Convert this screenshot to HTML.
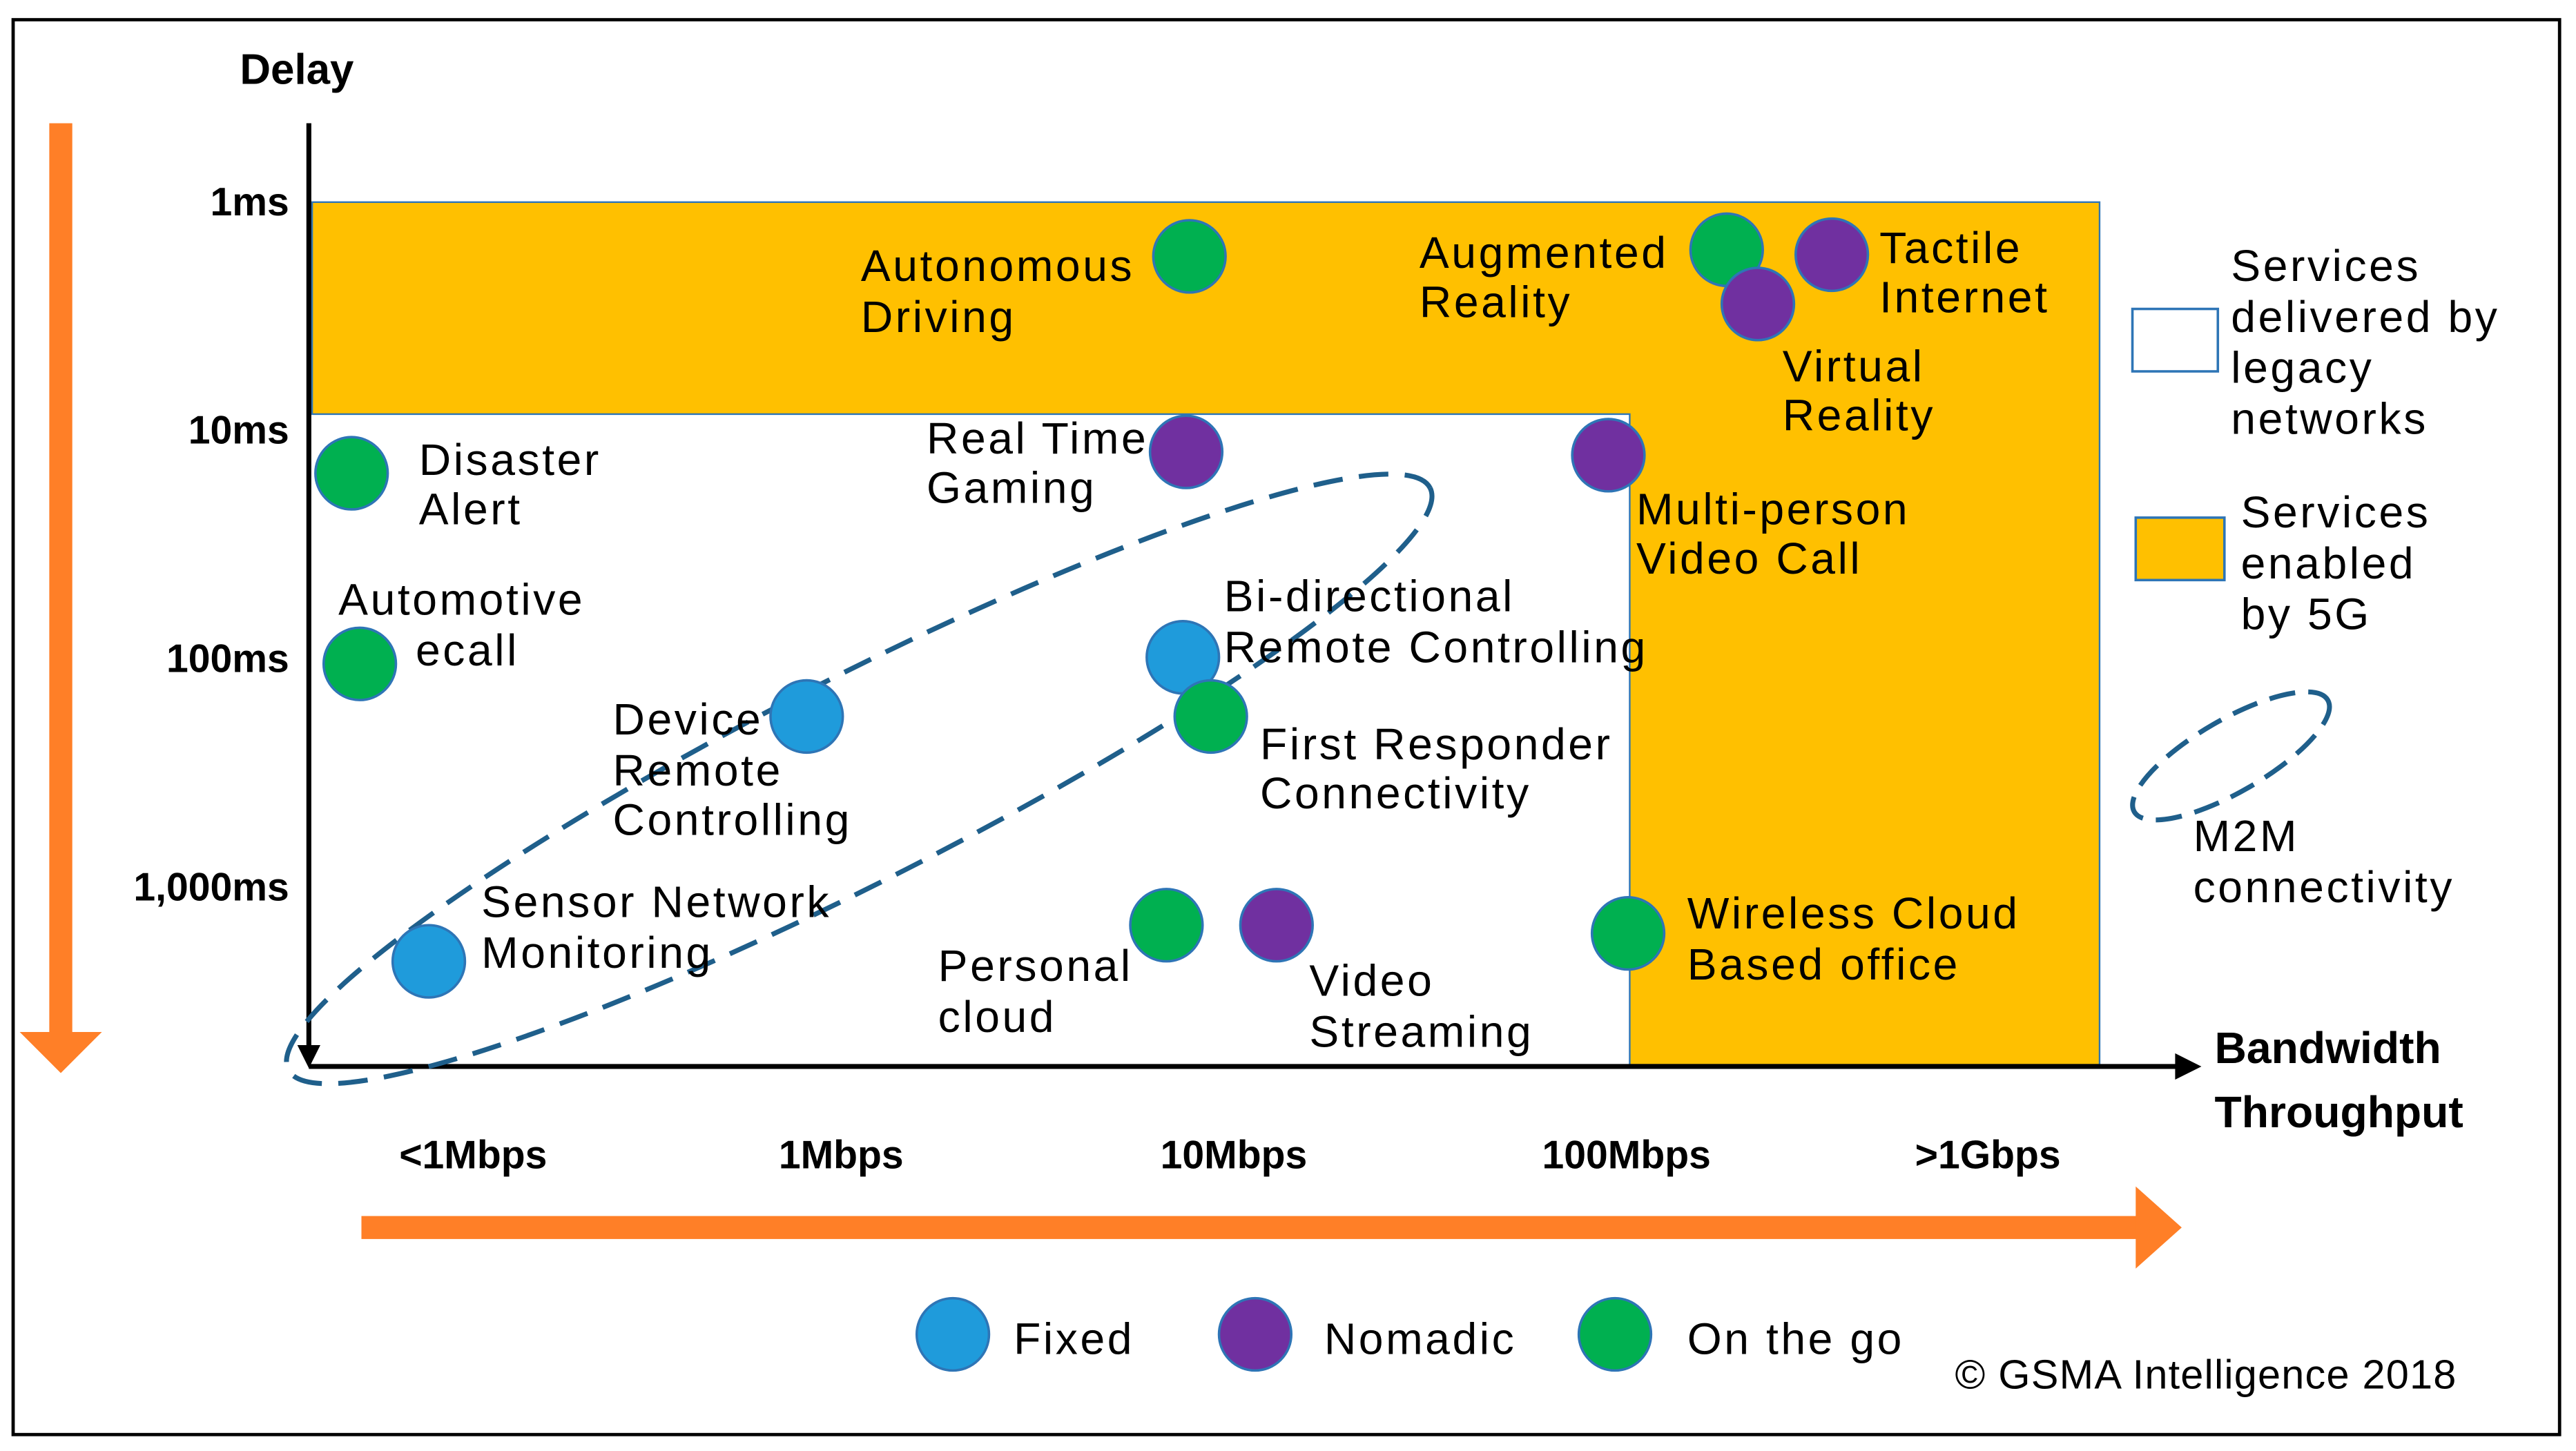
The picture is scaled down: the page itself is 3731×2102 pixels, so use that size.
<!DOCTYPE html>
<html><head><meta charset="utf-8"><style>
html,body{margin:0;padding:0;background:#fff}
svg{display:block}
text{font-family:"Liberation Sans",sans-serif;fill:#000}
.b{font-weight:bold;font-size:24px}
.t{font-size:27px;letter-spacing:1.5px}
</style></head><body>
<svg width="3731" height="2102" viewBox="0 0 1568 883" preserveAspectRatio="none" xmlns="http://www.w3.org/2000/svg">
<rect x="0" y="0" width="1568" height="883" fill="#fff"/>
<rect x="8" y="12" width="1550" height="861" fill="none" stroke="#000" stroke-width="2"/>
<rect x="30" y="75" width="14" height="555" fill="#FF7F27"/>
<polygon points="12,628 62,628 37,653" fill="#FF7F27"/>
<rect x="220" y="740" width="1082" height="14" fill="#FF7F27"/>
<polygon points="1300,722 1300,772 1328,747" fill="#FF7F27"/>
<polygon points="190,123 1278,123 1278,648 992,648 992,252 190,252" fill="#FFC000" stroke="#2E75B6" stroke-width="1"/>
<line x1="188" y1="75" x2="188" y2="645" stroke="#000" stroke-width="3"/>
<polygon points="181,636 195,636 188,650" fill="#000"/>
<line x1="188" y1="649" x2="1328" y2="649" stroke="#000" stroke-width="3"/>
<polygon points="1324,641 1324,657 1340,649" fill="#000"/>
<text x="146" y="51" class="b" style="font-size:26px">Delay</text>
<g class="b" text-anchor="end">
<text x="176" y="131">1ms</text><text x="176" y="270">10ms</text>
<text x="176" y="409">100ms</text><text x="176" y="548">1,000ms</text>
</g>
<g class="b" text-anchor="middle">
<text x="288" y="711">&lt;1Mbps</text><text x="512" y="711">1Mbps</text>
<text x="751" y="711">10Mbps</text><text x="990" y="711">100Mbps</text>
<text x="1210" y="711">&gt;1Gbps</text>
</g>
<text x="1348" y="647" class="b" style="font-size:27px">Bandwidth</text>
<text x="1348" y="686" class="b" style="font-size:27px">Throughput</text>
<ellipse cx="523" cy="474" rx="390" ry="62" transform="rotate(-27 523 474)" fill="none" stroke="#1F5F8B" stroke-width="3" stroke-dasharray="18 10"/>
<ellipse cx="1358" cy="460" rx="68" ry="22" transform="rotate(-30 1358 460)" fill="none" stroke="#1F5F8B" stroke-width="3" stroke-dasharray="16 8"/>
<g stroke="#2E75B6" stroke-width="1.5">
<circle cx="724" cy="156" r="22" fill="#00B050"/>
<circle cx="1051" cy="152" r="22" fill="#00B050"/>
<circle cx="1070" cy="185" r="22" fill="#7030A0"/>
<circle cx="1115" cy="155" r="22" fill="#7030A0"/>
<circle cx="722" cy="275" r="22" fill="#7030A0"/>
<circle cx="979" cy="277" r="22" fill="#7030A0"/>
<circle cx="214" cy="288" r="22" fill="#00B050"/>
<circle cx="219" cy="404" r="22" fill="#00B050"/>
<circle cx="491" cy="436" r="22" fill="#1F9BDB"/>
<circle cx="720" cy="400" r="22" fill="#1F9BDB"/>
<circle cx="737" cy="436" r="22" fill="#00B050"/>
<circle cx="261" cy="585" r="22" fill="#1F9BDB"/>
<circle cx="710" cy="563" r="22" fill="#00B050"/>
<circle cx="777" cy="563" r="22" fill="#7030A0"/>
<circle cx="991" cy="568" r="22" fill="#00B050"/>
<circle cx="580" cy="812" r="22" fill="#1F9BDB"/>
<circle cx="764" cy="812" r="22" fill="#7030A0"/>
<circle cx="983" cy="812" r="22" fill="#00B050"/>
</g>
<g class="t">
<text x="524" y="171">Autonomous</text><text x="524" y="202">Driving</text>
<text x="864" y="163">Augmented</text><text x="864" y="193">Reality</text>
<text x="1144" y="160">Tactile</text><text x="1144" y="190">Internet</text>
<text x="1085" y="232">Virtual</text><text x="1085" y="262">Reality</text>
<text x="564" y="276">Real Time</text><text x="564" y="306">Gaming</text>
<text x="255" y="289">Disaster</text><text x="255" y="319">Alert</text>
<text x="996" y="319">Multi-person</text><text x="996" y="349">Video Call</text>
<text x="206" y="374">Automotive</text><text x="253" y="405">ecall</text>
<text x="745" y="372">Bi-directional</text><text x="745" y="403">Remote Controlling</text>
<text x="373" y="447">Device</text><text x="373" y="478">Remote</text><text x="373" y="508">Controlling</text>
<text x="767" y="462">First Responder</text><text x="767" y="492">Connectivity</text>
<text x="293" y="558">Sensor Network</text><text x="293" y="589">Monitoring</text>
<text x="571" y="597">Personal</text><text x="571" y="628">cloud</text>
<text x="797" y="606">Video</text><text x="797" y="637">Streaming</text>
<text x="1027" y="565">Wireless Cloud</text><text x="1027" y="596">Based office</text>
<text x="1358" y="171">Services</text><text x="1358" y="202">delivered by</text>
<text x="1358" y="233">legacy</text><text x="1358" y="264">networks</text>
<text x="1364" y="321">Services</text><text x="1364" y="352">enabled</text><text x="1364" y="383">by 5G</text>
<text x="1335" y="518">M2M</text><text x="1335" y="549">connectivity</text>
<text x="617" y="824">Fixed</text><text x="806" y="824">Nomadic</text><text x="1027" y="824">On the go</text>
</g>
<text x="1190" y="845" style="font-size:25px;letter-spacing:0.5px">© GSMA Intelligence 2018</text>
<rect x="1298" y="188" width="52" height="38" fill="#fff" stroke="#2E75B6" stroke-width="1.5"/>
<rect x="1300" y="315" width="54" height="38" fill="#FFC000" stroke="#2E75B6" stroke-width="1.5"/>
</svg>
</body></html>
